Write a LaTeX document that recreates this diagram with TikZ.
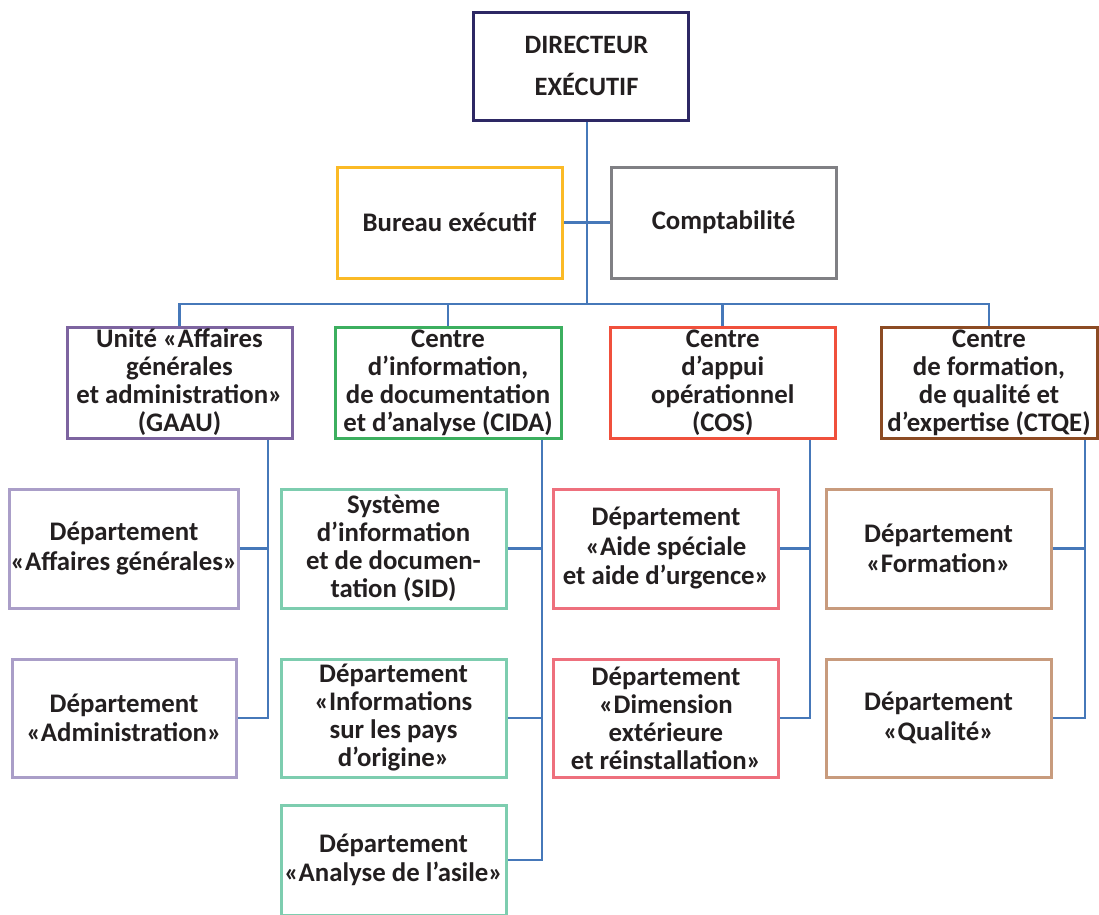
\documentclass[tikz,border=0pt]{standalone}
\usepackage{fontspec}
\setmainfont{Carlito}
\definecolor{navy}{RGB}{45,40,100}
\definecolor{cyel}{RGB}{251,186,38}
\definecolor{cgray}{RGB}{128,128,132}
\definecolor{cpur}{RGB}{125,100,160}
\definecolor{cgrn}{RGB}{60,175,95}
\definecolor{cred}{RGB}{240,80,60}
\definecolor{cbrn}{RGB}{140,75,35}
\definecolor{lpur}{RGB}{170,158,200}
\definecolor{lgrn}{RGB}{125,205,175}
\definecolor{lred}{RGB}{238,112,125}
\definecolor{lbrn}{RGB}{200,155,125}
\definecolor{link}{RGB}{70,120,185}
\definecolor{txt}{RGB}{35,31,32}
\begin{document}
\begin{tikzpicture}[x=1pt,y=-1pt,
  box/.style={draw, line width=3pt, fill=white, align=center, inner sep=1pt, text=txt,
    font=\fontsize{26.8}{28}\selectfont\bfseries},
  sub/.style={box, font=\fontsize{26.8}{29.5}\selectfont\bfseries},
  conn/.style={draw=link, line width=2.8pt}]
\useasboundingbox (0,0) rectangle (1099,914);
\clip (0,0) rectangle (1099,914);
% coordinates for connector columns
\coordinate (tx) at (587,0);
\coordinate (bus) at (0,304);
\coordinate (gx) at (268,0);
\coordinate (cx) at (542,0);
\coordinate (ox) at (810,0);
\coordinate (qx) at (1085,0);
% connectors (drawn first)
\draw[conn] (tx |- 0,118) -- (tx |- bus);
\draw[conn] (179.5,382) coordinate (gmid) -- (gmid |- bus) -- (989,304) -- (989,382);
\draw[conn] (448,304) -- (448,382);
\draw[conn] (722.75,304) -- (722.75,382);
\draw[conn] (449.5,222.5) -- (723.5,222.5);
% nodes
\node[box, draw=navy, minimum width=215, minimum height=108, font=\fontsize{26.5}{42}\selectfont\bfseries] (DIR) at (580.5,66) {\hspace*{12pt}DIRECTEUR\\\hspace*{12pt}EXÉCUTIF};
\node[box, draw=cyel, minimum width=225, minimum height=111] (BUR) at (449.5,222.5) {Bureau exécutif};
\node[box, draw=cgray, minimum width=225, minimum height=111] (CPT) at (723.5,222.5) {Comptabilité};
\node[box, draw=cpur, minimum width=225, minimum height=111] (GAAU) at (179.5,382.5) {Unité «Affaires\\générales\\et administration»\\(GAAU)};
\node[box, draw=cgrn, minimum width=226, minimum height=111] (CIDA) at (448,382.5) {Centre\\d’information,\\de documentation\\et d’analyse (CIDA)};
\node[box, draw=cred, minimum width=224.5, minimum height=111] (COS) at (722.75,382.5) {Centre\\d’appui\\opérationnel\\(COS)};
\node[box, draw=cbrn, minimum width=216, minimum height=111] (CTQE) at (989,382.5) {Centre\\de formation,\\de qualité et\\d’expertise (CTQE)};
% level 3
\node[sub, draw=lpur, minimum width=224, minimum height=119] (AG) at (124,548.5) {Département\\«Affaires générales»};
\node[sub, draw=lpur, minimum width=224, minimum height=118] (ADM) at (124,718) {Département\\«Administration»};
\node[box, draw=lgrn, minimum width=225, minimum height=119] (SID) at (393.5,548.5) {Système\\d’information\\et de documen-\\tation (SID)};
\node[box, draw=lgrn, minimum width=225, minimum height=118] (PAYS) at (393.5,718) {Département\\«Informations\\sur les pays\\d’origine»};
\node[sub, draw=lgrn, minimum width=225, minimum height=110] (ANA) at (393.5,860) {Département\\«Analyse de l’asile»};
\node[sub, draw=lred, minimum width=225, minimum height=119] (AIDE) at (666,548.5) {Département\\«Aide spéciale\\et aide d’urgence»};
\node[box, draw=lred, minimum width=225, minimum height=118] (DIM) at (666,718) {Département\\«Dimension\\extérieure\\et réinstallation»};
\node[sub, draw=lbrn, minimum width=225, minimum height=119] (FORM) at (938.5,548.5) {Département\\«Formation»};
\node[sub, draw=lbrn, minimum width=225, minimum height=118] (QUAL) at (938.5,718) {Département\\«Qualité»};
% level 3 connectors
\draw[conn] (gx |- GAAU.south) |- (ADM.east);
\draw[conn] (AG.east) -- (AG.east -| gx);
\draw[conn] (cx |- CIDA.south) |- (ANA.east);
\draw[conn] (SID.east) -- (SID.east -| cx);
\draw[conn] (PAYS.east) -- (PAYS.east -| cx);
\draw[conn] (ox |- COS.south) |- (DIM.east);
\draw[conn] (AIDE.east) -- (AIDE.east -| ox);
\draw[conn] (qx |- CTQE.south) |- (QUAL.east);
\draw[conn] (FORM.east) -- (FORM.east -| qx);
\end{tikzpicture}
\end{document}
